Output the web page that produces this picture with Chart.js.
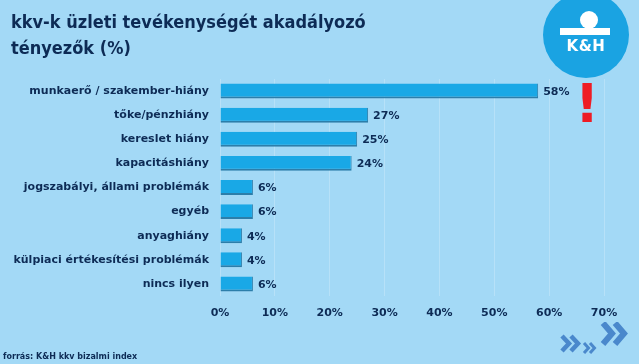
<!DOCTYPE html>
<html>
<head>
<meta charset="utf-8">
<script src="https://cdn.jsdelivr.net/npm/chart.js@4"></script>
<style>
  html, body { margin: 0; padding: 0; }
  body {
    width: 639px; height: 364px; overflow: hidden; position: relative;
    background: #a3d9f6; font-family: "DejaVu Sans", sans-serif; color: #0d2b55;
  }
  #title {
    position: absolute; left: 11px; top: 9px; font-weight: bold;
    font-family: "DejaVu Sans Condensed", "DejaVu Sans", sans-serif; font-stretch: condensed;
    font-size: 18px; line-height: 26px; color: #0d2b55;
  }
  #source {
    position: absolute; left: 3px; top: 352px; font-weight: bold;
    font-size: 8px; color: #0d2b55;
  }
  #logo {
    position: absolute; left: 543px; top: -8px; width: 86px; height: 86px;
    border-radius: 50%; background: #1aa3e2;
  }
  #logo .head {
    position: absolute; left: 37px; top: 19px; width: 18px; height: 18px;
    border-radius: 50%; background: #fff;
  }
  #logo .body {
    position: absolute; left: 17px; top: 36px; width: 50px; height: 7px; background: #fff;
  }
  #logo .text {
    position: absolute; left: 0; width: 86px; top: 45px; text-align: center;
    color: #fff; font-weight: bold; font-size: 15px; letter-spacing: 0.5px;
  }
  #bang {
    position: absolute; left: 575px; top: 77px; color: #ee1c24; font-weight: bold;
    font-size: 53px; line-height: 53px; font-family: "DejaVu Sans", sans-serif;
  }
  #chev { position: absolute; left: 560px; top: 322px; }
  #wrap { position: absolute; left: 0; top: 0; width: 639px; height: 364px; }
</style>
</head>
<body>
<div id="wrap"><canvas id="chart" width="639" height="364"></canvas></div>
<div id="title">kkv-k üzleti tevékenységét akadályozó<br>tényezők (%)</div>
<div id="logo"><div class="head"></div><div class="body"></div><div class="text">K&amp;H</div></div>
<div id="bang">!</div>
<svg id="chev" width="75" height="40" viewBox="0 0 75 40">
  <g fill="none" stroke="#4a88cc" stroke-linejoin="miter">
    <polyline points="2,14 9,21.5 2,29" stroke-width="4.5"/>
    <polyline points="11,14 18,21.5 11,29" stroke-width="4.5"/>
    <polyline points="24,21 28.5,26 24,31" stroke-width="3"/>
    <polyline points="30,21 34.5,26 30,31" stroke-width="3"/>
    <polyline points="43,1 52,11.5 43,22" stroke-width="6"/>
    <polyline points="55,1 64,11.5 55,22" stroke-width="6"/>
  </g>
</svg>
<div id="source">forrás: K&amp;H kkv bizalmi index</div>
<script>
// =========================
// Data
// =========================
const categories = [
  "munkaerő / szakember-hiány",
  "tőke/pénzhiány",
  "kereslet hiány",
  "kapacitáshiány",
  "jogszabályi, állami problémák",
  "egyéb",
  "anyaghiány",
  "külpiaci értékesítési problémák",
  "nincs ilyen",
];
const values = [58, 27, 25, 24, 6, 6, 4, 4, 6];
const xTicks = [0, 10, 20, 30, 40, 50, 60, 70];

const navy = "#0d2b55";
const labelFont = { family: "DejaVu Sans", size: 11, weight: "bold" };

// value labels at the end of each bar
const valueLabels = {
  id: "valueLabels",
  afterDatasetsDraw(chart) {
    const ctx = chart.ctx;
    const meta = chart.getDatasetMeta(0);
    ctx.save();
    ctx.font = "bold 11px 'DejaVu Sans'";
    ctx.fillStyle = navy;
    ctx.textBaseline = "middle";
    meta.data.forEach((bar, i) => {
      ctx.fillText(values[i] + "%", bar.x + 5, bar.y + 1);
    });
    ctx.restore();
  },
};

new Chart(document.getElementById("chart"), {
  type: "bar",
  data: {
    labels: categories,
    datasets: [
      {
        data: values,
        backgroundColor: "#19a8e6",
        borderColor: "#2c7eaa",
        borderWidth: { top: 0, left: 0, right: 1, bottom: 2 },
        borderSkipped: false,
        barPercentage: 0.62,
        categoryPercentage: 1,
      },
    ],
  },
  options: {
    indexAxis: "y",
    responsive: false,
    animation: false,
    layout: { padding: { top: 79, bottom: 38, left: 0, right: 35 } },
    plugins: { legend: { display: false }, tooltip: { enabled: false } },
    scales: {
      x: {
        min: 0,
        max: 70,
        afterBuildTicks: (scale) => {
          scale.ticks = xTicks.map((v) => ({ value: v }));
        },
        afterFit: (scale) => {
          scale.height = 30;
        },
        border: { display: false },
        grid: { color: "rgba(255,255,255,0.22)", drawTicks: false },
        ticks: {
          padding: 11,
          color: navy,
          font: labelFont,
          callback: (v) => v + "%",
        },
      },
      y: {
        afterFit: (scale) => {
          scale.width = 220;
        },
        border: { display: false },
        grid: { display: false, drawTicks: false },
        ticks: { padding: 11, color: navy, font: labelFont },
      },
    },
  },
  plugins: [valueLabels],
});
</script>
</body>
</html>
